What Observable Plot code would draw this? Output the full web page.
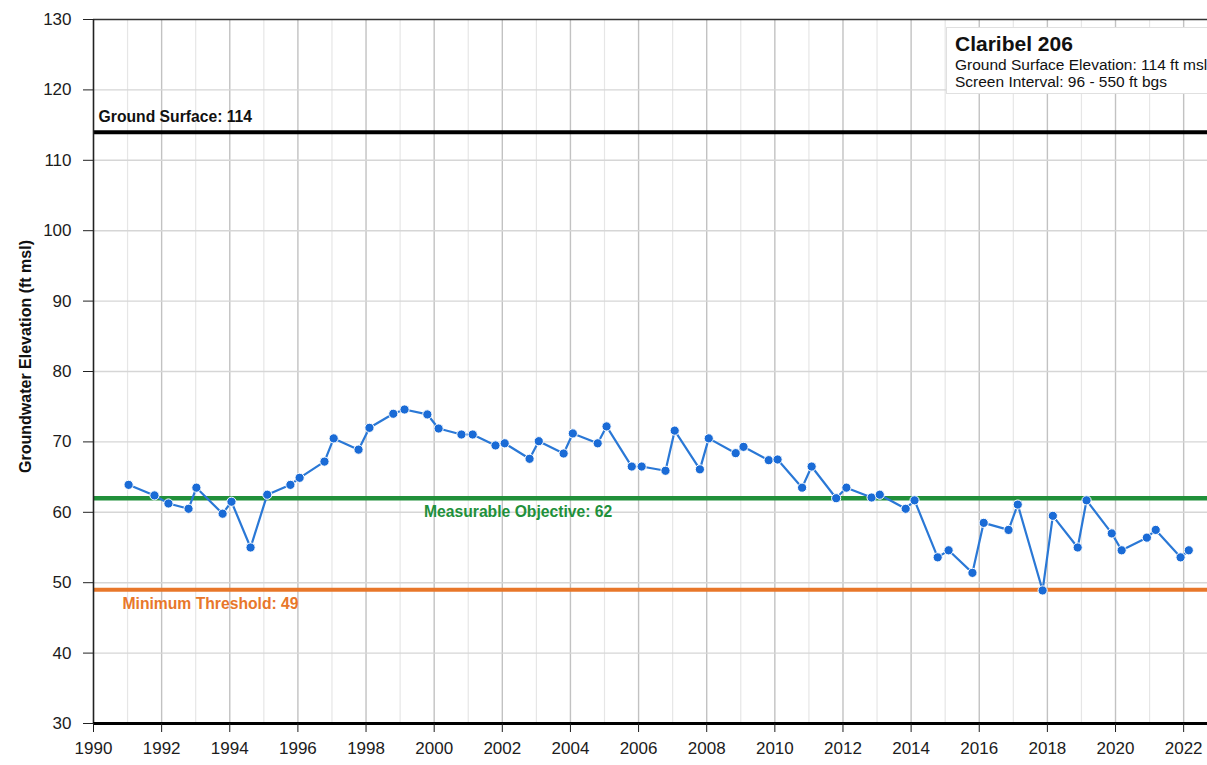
<!DOCTYPE html>
<html><head><meta charset="utf-8">
<script src="https://cdn.jsdelivr.net/npm/d3@7"></script>
<script src="https://cdn.jsdelivr.net/npm/@observablehq/plot@0.6"></script>
<style>
html,body{margin:0;padding:0;background:#fff;}
#wrap{position:relative;width:1207px;height:765px;overflow:hidden;font-family:"Liberation Sans",Arial,sans-serif;}
#box{position:absolute;left:946px;top:27px;width:270px;height:67px;background:#fff;border:1px solid #e0e0e0;box-sizing:border-box;padding:4px 0 0 8px;white-space:nowrap;overflow:hidden;color:#111;}
#box .t{font-weight:bold;font-size:21px;line-height:24px;}
#box .s{font-size:15.5px;line-height:17px;}
</style>
</head><body>
<div id="wrap"><div id="chart"></div>
<div id="box"><div class="t">Claribel 206</div><div class="s">Ground Surface Elevation: 114 ft msl</div><div class="s">Screen Interval: 96 - 550 ft bgs</div></div>
</div>
<script>
const years = [1991.03,1991.79,1992.2,1992.79,1993.02,1993.79,1994.05,1994.61,1995.1,1995.78,1996.05,1996.78,1997.05,1997.78,1998.1,1998.8,1999.13,1999.8,2000.13,2000.8,2001.13,2001.8,2002.07,2002.8,2003.07,2003.8,2004.07,2004.8,2005.06,2005.8,2006.09,2006.79,2007.06,2007.8,2008.06,2008.85,2009.08,2009.82,2010.08,2010.8,2011.08,2011.8,2012.1,2012.84,2013.08,2013.84,2014.1,2014.78,2015.1,2015.8,2016.13,2016.86,2017.13,2017.86,2018.16,2018.89,2019.15,2019.89,2020.18,2020.92,2021.18,2021.91,2022.15];
const elevations = [63.9,62.4,61.25,60.5,63.5,59.8,61.5,55.0,62.5,63.9,64.9,67.2,70.5,68.9,72.0,74.0,74.6,73.9,71.9,71.05,71.05,69.5,69.8,67.6,70.1,68.35,71.2,69.8,72.2,66.5,66.5,65.9,71.6,66.1,70.5,68.4,69.3,67.4,67.5,63.5,66.5,62.0,63.5,62.1,62.5,60.5,61.7,53.6,54.6,51.4,58.5,57.5,61.1,48.9,59.5,55.0,61.7,57.0,54.6,56.4,57.5,53.6,54.6];
const yTicks = [30,40,50,60,70,80,90,100,110,120,130];
const xTicks = [1990,1992,1994,1996,1998,2000,2002,2004,2006,2008,2010,2012,2014,2016,2018,2020,2022];
const minorYears = [1991,1993,1995,1997,1999,2001,2003,2005,2007,2009,2011,2013,2015,2017,2019,2021];
const groundSurface = 114;
const measurableObjective = 62;
const minimumThreshold = 49;
const groundLabel = "Ground Surface: 114";
const moLabel = "Measurable Objective: 62";
const mtLabel = "Minimum Threshold: 49";
const yLabel = "Groundwater Elevation (ft msl)";

const data = years.map((y,i)=>({year:y, elev:elevations[i]}));
const blue = "#1a6bd6";
const green = "#21903a";
const orange = "#e8772a";
const font = "Liberation Sans, Arial, sans-serif";

const chart = Plot.plot({
  width: 1207, height: 765,
  marginLeft: 93, marginRight: 0, marginTop: 19, marginBottom: 42,
  style: {fontFamily: font, background: "#fff", overflow: "visible"},
  x: {domain: [1990, 2022.7], axis: null},
  y: {domain: [30, 130], axis: null},
  marks: [
    Plot.ruleX(minorYears, {stroke: "#e6e6e6", strokeWidth: 1.2}),
    Plot.ruleX(xTicks.slice(1), {stroke: "#c2c2c2", strokeWidth: 1.4}),
    Plot.ruleY(yTicks.slice(1,-1), {stroke: "#d6d6d6", strokeWidth: 1.4}),
    Plot.ruleY([130], {stroke: "#333", strokeWidth: 1.5}),
    Plot.ruleY([groundSurface], {stroke: "#000", strokeWidth: 4}),
    Plot.ruleY([measurableObjective], {stroke: green, strokeWidth: 4.5}),
    Plot.ruleY([minimumThreshold], {stroke: orange, strokeWidth: 4}),
    Plot.text([groundLabel], {x: 1990.15, y: groundSurface, text: d=>d, dy: -15, textAnchor: "start", fontWeight: "bold", fontSize: 15.7, fill: "#111"}),
    Plot.text([moLabel], {x: 1999.7, y: measurableObjective, text: d=>d, dy: 14, textAnchor: "start", fontWeight: "bold", fontSize: 15.7, fill: green}),
    Plot.text([mtLabel], {x: 1990.85, y: minimumThreshold, text: d=>d, dy: 14, textAnchor: "start", fontWeight: "bold", fontSize: 15.7, fill: orange}),
    Plot.line(data, {x: "year", y: "elev", stroke: "#2a78d6", strokeWidth: 2.2}),
    Plot.dot(data, {x: "year", y: "elev", r: 4.6, fill: blue, stroke: "#fff", strokeWidth: 1}),
    Plot.ruleX([1990], {stroke: "#222", strokeWidth: 1.6}),
    Plot.ruleY([30], {stroke: "#000", strokeWidth: 3}),
    Plot.axisY({ticks: yTicks, tickSize: 10, tickPadding: 12, fontSize: 17, tickFormat: d=>String(d), color: "#1c1c1c", label: null, stroke: "#222"}),
    Plot.axisX({ticks: xTicks, tickSize: 9, tickPadding: 9, fontSize: 17, tickFormat: d=>String(d), color: "#1c1c1c", label: null}),
    Plot.text([yLabel], {frameAnchor: "left", dx: -68, dy: -15, rotate: -90, textAnchor: "middle", text: d=>d, fontWeight: "bold", fontSize: 16, fill: "#111"})
  ]
});
document.getElementById("chart").appendChild(chart);
</script>
</body></html>
